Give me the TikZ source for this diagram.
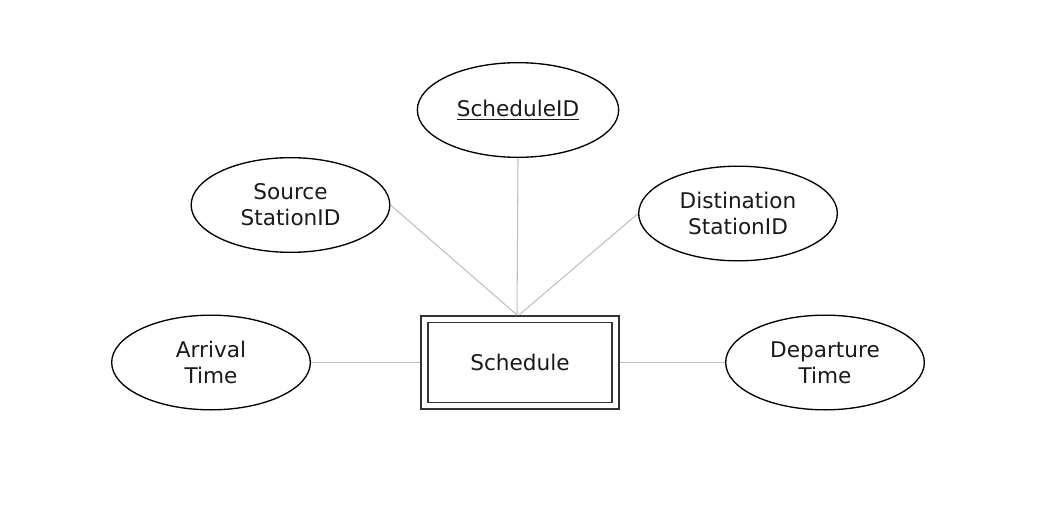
\documentclass[tikz,border=0pt]{standalone}
\usepackage{fontspec}
\setmainfont{DejaVu Sans}
\usetikzlibrary{shapes.geometric}
\tikzset{
  attr/.style={ellipse, draw=black, line width=1pt, minimum width=149pt, minimum height=71pt, inner sep=0pt, align=center, font=\fontsize{16.2}{19.5}\selectfont, text=black!90},
  entbox/.style={rectangle, draw=black!80, line width=1.1pt, minimum width=148.5pt, minimum height=69.75pt, inner sep=0pt},
  entinner/.style={rectangle, draw=black!80, line width=1.1pt, minimum width=138pt, minimum height=60pt, inner sep=0pt, font=\fontsize{16.2}{19.5}\selectfont, text=black!90},
  conn/.style={draw=black!25, line width=0.8pt}
}
\begin{document}
\begin{tikzpicture}[x=0.75pt,y=-0.75pt]
\useasboundingbox (0,0) rectangle (1037,531);
\node[entbox] (sch) at (520,362.5) {};
\node[entinner] (schin) at (520,362.5) {Schedule};
\node[attr, minimum width=151pt] (sid) at (518,110) {\underline{ScheduleID}};
\node[attr] (src) at (290.5,205) {Source\\StationID};
\node[attr] (dst) at (738,213.5) {Distination\\StationID};
\node[attr] (arr) at (211,362.5) {Arrival\\Time};
\node[attr] (dep) at (825,362.5) {Departure\\Time};
\coordinate (top1) at (517,315);
\coordinate (top2) at (519,315);
\draw[conn] (sid.south) -- (top1);
\draw[conn] (src.east) -- (top1);
\draw[conn] (dst.west) -- (top2);
\draw[conn] (arr.east) -- (sch.west);
\draw[conn] (dep.west) -- (sch.east);
\end{tikzpicture}
\end{document}
